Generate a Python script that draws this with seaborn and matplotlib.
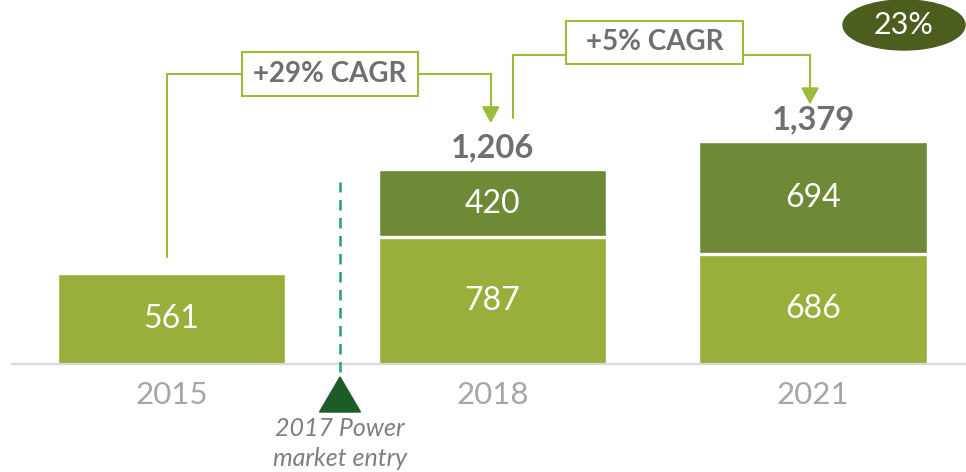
import matplotlib
matplotlib.use("Agg")
import matplotlib.pyplot as plt
from matplotlib.patches import Rectangle, Polygon, Ellipse
import pandas as pd
import seaborn as sns

# --- data -------------------------------------------------------------
years = ["2015", "2018", "2021"]
base_values = [561, 787, 686]        # lower (core) segment
power_values = [0, 420, 694]         # upper (power) segment
totals = [561, 1206, 1379]           # stack totals as labelled
total_labels = ["", "1,206", "1,379"]
cagr_labels = ["+29% CAGR", "+5% CAGR"]
share_label = "23%"
entry_lines = ["2017 Power", "market entry"]

# --- style ------------------------------------------------------------
LIGHT = "#98B03B"
DARK = "#6E8A36"
LINE = "#9BBB3A"
GREY_TXT = "#6F6F6F"
TICK_TXT = "#A6A6A6"
OVAL = "#4B5E1E"
TRI = "#1E5C27"
DASH = "#1FA36A"

sns.set_theme(style="white")
plt.rcParams["font.family"] = ["Lato", "DejaVu Sans"]

W, H = 966, 472
BASE_ROW = 364                       # pixel row of the baseline
fig = plt.figure(figsize=(W / 100, H / 100), dpi=100)
ax = fig.add_axes([0, (H - BASE_ROW) / H, 1, BASE_ROW / H])

df = pd.DataFrame({"year": years, "base": base_values,
                   "power": power_values, "total": totals})

BAR_W = 0.708
sns.barplot(data=df, x="year", y="total", color=DARK, saturation=1,
            width=BAR_W, ax=ax)
sns.barplot(data=df, x="year", y="base", color=LIGHT, saturation=1,
            width=BAR_W, ax=ax)

# scale: pixels per data unit
PX_X = 320.75
PX_Y = 0.161
ax.set_xlim(-171.5 / PX_X, (W - 171.5) / PX_X)
ax.set_ylim(0, BASE_ROW / PX_Y)
ax.set_xlabel("")
ax.set_ylabel("")
ax.set_yticks([])
for s in ax.spines.values():
    s.set_visible(False)
ax.tick_params(axis="x", length=0, pad=12, labelsize=22.5, labelcolor=TICK_TXT)

def dx(px):
    return px / PX_X

def dy(px):
    return px / PX_Y

# baseline
ax.axhline(0, xmin=12 / W, xmax=1, color="#D9D9D9", lw=1.6, clip_on=False, zorder=1)

# segment separators and labels
for i, (b, p, t) in enumerate(zip(base_values, power_values, totals)):
    ax.text(i, b / 2, f"{b:,}", ha="center", va="center", color="white",
            fontsize=23)
    if p > 0:
        ax.hlines(b, i - BAR_W / 2, i + BAR_W / 2, color="white", lw=2.4, zorder=5)
        ax.text(i, b + (t - b) / 2, f"{p:,}", ha="center", va="center",
                color="white", fontsize=23)
    if total_labels[i]:
        ax.text(i, t + dy(22), total_labels[i], ha="center", va="center",
                color=GREY_TXT, fontsize=23.5, fontweight="bold")

LW = 1.5

def arrow_head(x, tip_y):
    ax.add_patch(Polygon([(x - dx(8), tip_y + dy(15)), (x + dx(8), tip_y + dy(15)),
                          (x, tip_y)], closed=True, color=LINE, clip_on=False, zorder=6))

def cagr_box(cx, cy, w_px, h_px, label):
    ax.add_patch(Rectangle((cx - dx(w_px) / 2, cy - dy(h_px) / 2), dx(w_px), dy(h_px),
                           facecolor="white", edgecolor=LINE, lw=LW, zorder=7,
                           clip_on=False))
    ax.text(cx, cy, label, ha="center", va="center", color=GREY_TXT,
            fontsize=20, fontweight="bold", zorder=8)

# bracket 2015 -> 2018
y1 = dy(BASE_ROW - 74)
x_l1 = 0 - dx(4.5)
x_r1 = 1 - dx(1.5)
tip1 = totals[1] + dy(48)
ax.plot([x_l1, x_l1, x_r1, x_r1], [totals[0] + dy(17), y1, y1, tip1 + dy(14)],
        color=LINE, lw=LW, solid_joinstyle="miter", zorder=6, clip_on=False)
arrow_head(x_r1, tip1)
cagr_box(dx(330 - 171.5), y1, 176, 44, cagr_labels[0])

# bracket 2018 -> 2021
y2 = dy(BASE_ROW - 55)
x_l2 = 1 + dx(20.5)
x_r2 = 2 - dx(3)
tip2 = totals[2] + dy(39)
ax.plot([x_l2, x_l2, x_r2, x_r2], [totals[1] + dy(52), y2, y2, tip2 + dy(14)],
        color=LINE, lw=LW, solid_joinstyle="miter", zorder=6, clip_on=False)
arrow_head(x_r2, tip2)
cagr_box(dx(654.5 - 171.5), dy(BASE_ROW - 42.5), 177, 43, cagr_labels[1])

# share oval
ov_x, ov_y = dx(904 - 171.5), dy(BASE_ROW - 25)
ax.add_patch(Ellipse((ov_x, ov_y), dx(122), dy(50), color=OVAL, clip_on=False, zorder=6))
ax.text(ov_x, ov_y, share_label, ha="center", va="center", color="white",
        fontsize=22, zorder=7)

# market-entry marker between 2015 and 2018
ex = dx(340 - 171.5)
ax.plot([ex, ex], [dy(-8), dy(BASE_ROW - 182)], color=DASH,
        lw=1.8, linestyle=(0, (4.2, 3.0)), clip_on=False, zorder=4)
ax.add_patch(Polygon([(ex - dx(20.5), dy(-48)), (ex + dx(20.5), dy(-48)), (ex, dy(-13))],
                     closed=True, color=TRI, clip_on=False, zorder=5))
ax.text(ex, dy(-65), entry_lines[0], ha="center", va="center", color="#7F7F7F",
        fontsize=18, style="italic", clip_on=False)
ax.text(ex, dy(-94), entry_lines[1], ha="center", va="center", color="#7F7F7F",
        fontsize=18, style="italic", clip_on=False)

fig.savefig("out.png", dpi=100)
